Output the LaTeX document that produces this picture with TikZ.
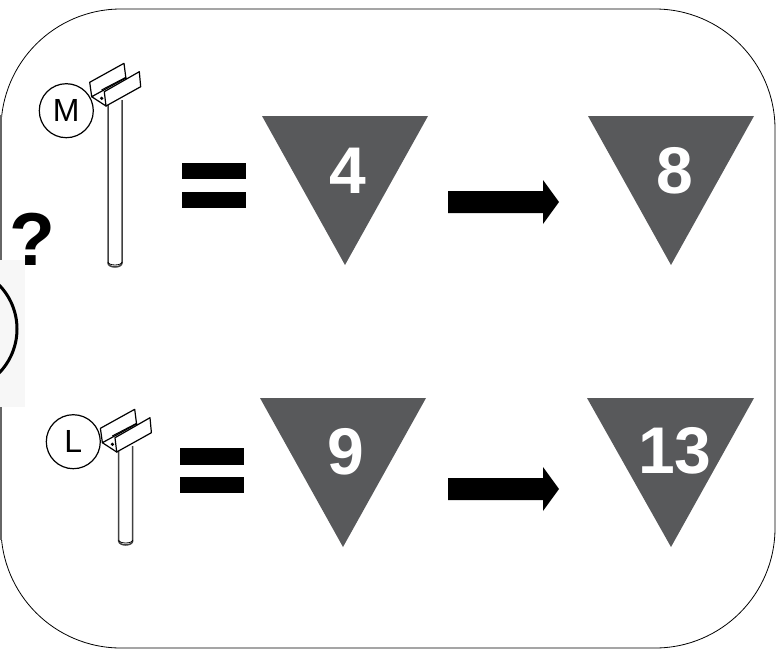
\documentclass[tikz,border=0pt]{standalone}
\usepackage{fontspec}
\setmainfont{Liberation Sans}
\definecolor{wedgegray}{HTML}{58595B}
\tikzset{
  wedge/.style={fill=wedgegray},
  wedgetext/.style={text=white, font=\fontsize{66}{66}\selectfont\bfseries, inner sep=0pt},
  sizemark/.style={circle, draw, line width=1.2pt, minimum size=54pt, inner sep=0pt, font=\fontsize{32}{32}\selectfont},
  part/.style={draw, fill=white, line width=1.2pt, line join=round}
}
% bracket on a post: x shift, y shift, lower end of the post
\newcommand{\bracketpost}[3]{
  \begin{scope}[shift={(#1,#2)}]
    \draw[part, draw=black!75, line width=1.5pt] (108, 100) -- (108, #3-4) arc[start angle=180, end angle=0, x radius=7, y radius=4] -- (122, 100);
    \draw[line width=0.8pt] (108, #3-5) arc[start angle=180, end angle=0, x radius=7, y radius=3];
    \draw[part] (89.7, 82.3) -- (124, 63.3) -- (125.7, 76.7) -- (125.7, 84) -- (91.7, 96.7) -- cycle;
    \draw[part] (91.7, 96.7) -- (125.7, 78) -- (132, 82) -- (106, 106) -- cycle;
    \draw[part] (104.3, 91.7) -- (139.3, 71.7) -- (140.7, 86.7) -- (106, 106) -- cycle;
    \draw[line width=1pt] (101.5, 90) -- (125.5, 77.5);
    \fill (101.7, 98.3) circle (1.8);
  \end{scope}
}
\begin{document}
\begin{tikzpicture}[x=1pt, y=-1pt]
  \useasboundingbox (0, 0) rectangle (776, 651);
  \draw[line width=0.8pt, rounded corners=120pt] (1, 9) rectangle (775, 648);
  \draw[black!60, line width=1.1pt] (1, 115) -- (1, 540);
  % cut-off figure at the left edge
  \fill[black!3] (0, 260) rectangle (25, 407);
  \begin{scope}
    \clip (0, 0) rectangle (776, 651);
    \draw[line width=3pt] (-46, 329) circle (63);
  \end{scope}
  \node[inner sep=0pt, font=\fontsize{75}{75}\selectfont\bfseries] (question) at (32, 239) {?};

  % medium
  \bracketpost{0}{0}{267}
  \node[sizemark] (sizeM) at (66.3, 110.7) {M};
  \fill (182, 163) rectangle (246, 179);
  \fill (182, 192) rectangle (246, 208);
  \fill[wedge] (262, 116) -- (428, 116) -- (345, 265) -- cycle;
  \node[wedgetext] (valueA) at (348, 171) {4};
  \fill (448, 191) -- (543, 191) -- (543, 180) -- (559, 202) -- (543, 224) -- (543, 213) -- (448, 213) -- cycle;
  \fill[wedge] (588, 116) -- (754, 116) -- (671, 265) -- cycle;
  \node[wedgetext] (valueB) at (675, 171) {8};

  % large
  \bracketpost{10.7}{346}{199}
  \node[sizemark] (sizeL) at (73.3, 441.7) {L};
  \fill (180, 448) rectangle (244, 465);
  \fill (180, 477) rectangle (244, 493);
  \fill[wedge] (260, 398) -- (426, 398) -- (343, 547) -- cycle;
  \node[wedgetext] (valueC) at (346, 452) {9};
  \fill (448, 478) -- (543, 478) -- (543, 467) -- (559, 489) -- (543, 511) -- (543, 500) -- (448, 500) -- cycle;
  \fill[wedge] (587, 398) -- (754, 398) -- (671, 547) -- cycle;
  \node[wedgetext] (valueD) at (675, 451) {13};
\end{tikzpicture}
\end{document}
